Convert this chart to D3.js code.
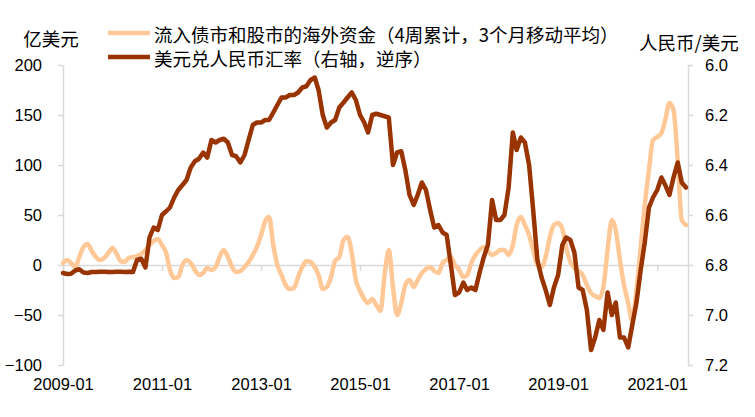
<!DOCTYPE html>
<html>
<head>
<meta charset="utf-8">
<script src="https://cdn.jsdelivr.net/npm/d3@7"></script>
<style>
  html, body { margin: 0; padding: 0; background: #fff; }
  svg { display: block; }
</style>
</head>
<body>
<svg id="chart" width="755" height="417"></svg>
<script>
// ---- Data (monthly, starting 2009-01) ----
const startMonth = "2009-01";
const xTickLabels = ["2009-01", "2011-01", "2013-01", "2015-01", "2017-01", "2019-01", "2021-01"];
const leftTicks = [-100, -50, 0, 50, 100, 150, 200];
const rightTicks = [6.0, 6.2, 6.4, 6.6, 6.8, 7.0, 7.2];
const seriesNames = ["流入债市和股市的海外资金（4周累计，3个月移动平均）", "美元兑人民币汇率（右轴，逆序）"];

// 亿美元
const flows = [
  2, 5, 2, -2, 8, 18, 21, 14, 8, 5, 7, 12,
  17, 11, 4, 3, 7, 8, 9, 11, 15, 20, 24, 26,
  20, 12, -5, -13, -12, 0, 5, 2, -5, -10, -8, -3,
  -5, -2, 8, 15, 8, -2, -7, -6, -2, 3, 10, 18,
  30, 44, 48, 20, 0, -10, -20, -24, -23, -12, -2, 4,
  3, -2, -10, -24, -22, -12, 4, 8, 25, 28, 12, -15,
  -26, -34, -38, -34, -40, -46, -10, 15, -22, -50, -38, -20,
  -15, -22, -15, -8, -4, -2, -6, -8, 2, 5, 8, 0,
  -5, -12, -10, 2, 10, 15, 18, 14, 10, 12, 15, 15,
  10, 20, 40, 48, 40, 30, 15, 0, -2, 8, 28, 40,
  42, 36, 18, 3, -3, -6, -10, -20, -28, -31, -33, -22,
  15, 45, 35, 5, -20, -38, -56, -25, 18, 60, 95, 125,
  128, 132, 145, 162, 155, 105, 45, 40
];

// 人民币/美元
const usdcny = [
  6.832, 6.836, 6.835, 6.822, 6.817, 6.830, 6.832, 6.828, 6.828, 6.827, 6.827, 6.828,
  6.828, 6.827, 6.827, 6.828, 6.827, 6.828, 6.780, 6.775, 6.810, 6.690, 6.650, 6.660,
  6.600, 6.585, 6.570, 6.530, 6.500, 6.480, 6.460, 6.410, 6.385, 6.375, 6.350, 6.370,
  6.300, 6.310, 6.300, 6.295, 6.310, 6.360, 6.365, 6.390, 6.360, 6.300, 6.240, 6.230,
  6.230, 6.220, 6.220, 6.190, 6.160, 6.130, 6.130, 6.120, 6.120, 6.110, 6.090, 6.085,
  6.060, 6.050, 6.100, 6.200, 6.250, 6.230, 6.220, 6.170, 6.150, 6.130, 6.110, 6.140,
  6.200, 6.230, 6.270, 6.200, 6.195, 6.200, 6.205, 6.210, 6.400, 6.350, 6.345, 6.420,
  6.520, 6.560, 6.520, 6.470, 6.500, 6.580, 6.650, 6.640, 6.670, 6.680, 6.800, 6.920,
  6.910, 6.870, 6.900, 6.890, 6.900, 6.830, 6.770, 6.720, 6.540, 6.620, 6.620, 6.600,
  6.490, 6.270, 6.340, 6.290, 6.310, 6.400, 6.580, 6.780, 6.850, 6.900, 6.960, 6.890,
  6.840, 6.720, 6.690, 6.700, 6.750, 6.890, 6.900, 6.980, 7.140, 7.090, 7.020, 7.060,
  6.910, 7.000, 6.950, 7.090, 7.090, 7.130, 7.040, 6.950, 6.820, 6.710, 6.570, 6.530,
  6.500, 6.450, 6.480, 6.520, 6.450, 6.390, 6.470, 6.490
];

const colors = ["#FFC896", "#993300"];

// ---- Build ----
const parseMonth = d3.timeParse("%Y-%m");
const t0 = parseMonth(startMonth);
const dates = flows.map((_, i) => d3.timeMonth.offset(t0, i));
const flowData = flows.map((v, i) => ({ date: dates[i], v }));
const rateData = usdcny.map((v, i) => ({ date: dates[i], v }));

const svg = d3.select("#chart");
const plotL = 63, plotR = 688, plotT = 65, plotB = 365;

const x = d3.scaleTime()
  .domain([t0, new Date(2021, 7, 16)])
  .range([plotL, plotR]);
const yL = d3.scaleLinear().domain([-100, 200]).range([plotB, plotT]);
const yR = d3.scaleLinear().domain([6.0, 7.2]).range([plotT, plotB]);

const axisColor = "#D9D9D9";
const numFont = "'Liberation Sans', Arial, sans-serif";
const cjkFont = "'Noto Sans CJK SC', 'Noto Sans', sans-serif";

// Left axis
const gL = svg.append("g").attr("transform", `translate(${plotL},0)`)
  .call(d3.axisLeft(yL).tickValues(leftTicks).tickSize(5).tickSizeOuter(0).tickPadding(16));
// Right axis
const gR = svg.append("g").attr("transform", `translate(${plotR},0)`)
  .call(d3.axisRight(yR).tickValues(rightTicks).tickFormat(d3.format(".1f")).tickSize(5).tickSizeOuter(0).tickPadding(12));
// X axis at zero
const xTicks = xTickLabels.map(s => parseMonth(s));
const gX = svg.append("g").attr("transform", `translate(0,${yL(0)})`)
  .call(d3.axisBottom(x).tickValues(xTicks).tickFormat(d3.timeFormat("%Y-%m")).tickSize(6).tickSizeOuter(0).tickPadding(0));
gX.selectAll("text").attr("y", 125).attr("dy", "0");

[gL, gR, gX].forEach(g => {
  g.select(".domain").attr("stroke", axisColor).attr("stroke-width", 1.5);
  g.selectAll(".tick line").attr("stroke", axisColor).attr("stroke-width", 1.5);
  g.selectAll("text").attr("fill", "#000").style("font-family", numFont).style("font-size", "16.5px");
});

// Lines
const flowLine = d3.line().x(d => x(d.date)).y(d => yL(d.v)).curve(d3.curveMonotoneX);
const rateLine = d3.line().x(d => x(d.date)).y(d => yR(d.v));

svg.append("path").datum(flowData)
  .attr("d", flowLine).attr("fill", "none")
  .attr("stroke", colors[0]).attr("stroke-width", 4.5)
  .attr("stroke-linejoin", "round").attr("stroke-linecap", "round");
svg.append("path").datum(rateData)
  .attr("d", rateLine).attr("fill", "none")
  .attr("stroke", colors[1]).attr("stroke-width", 4.5)
  .attr("stroke-linejoin", "round").attr("stroke-linecap", "round");

// Axis titles
svg.append("text").attr("x", 51).attr("y", 38).attr("text-anchor", "middle").attr("dominant-baseline", "central")
  .style("font-family", cjkFont).style("font-size", "18.5px").attr("fill", "#000").text("亿美元");
svg.append("text").attr("x", 689).attr("y", 42).attr("text-anchor", "middle").attr("dominant-baseline", "central")
  .style("font-family", cjkFont).style("font-size", "18.5px").attr("fill", "#000").text("人民币/美元");

// Legend
const legend = svg.append("g");
seriesNames.forEach((name, i) => {
  const yy = 33 + i * 24;
  legend.append("line").attr("x1", 108).attr("x2", 150).attr("y1", yy).attr("y2", yy)
    .attr("stroke", colors[i]).attr("stroke-width", 4.5);
  legend.append("text").attr("x", 154).attr("y", yy + 1).attr("dominant-baseline", "central")
    .style("font-family", cjkFont).style("font-size", "18.5px").attr("fill", "#000").text(name);
});
</script>
</body>
</html>
